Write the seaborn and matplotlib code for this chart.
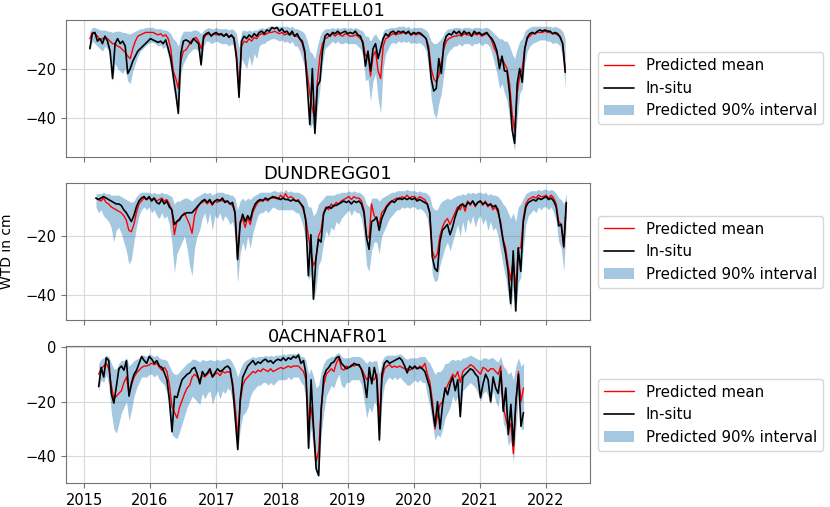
import pandas as pd
import numpy as np
import matplotlib
matplotlib.use('Agg')
import matplotlib.pyplot as plt
import matplotlib.dates as mdates
from matplotlib.ticker import MultipleLocator
import seaborn as sns

# %%
# fortnightly series (WTD in cm)
goat_start = '2015-02-02'
goat_insitu = [
    -12, -6, -5.5, -9, -8, -10, -7, -9, -13, -24, -10, -8, -10, -9, -11, -22, -20, -17, -15, -13, -12, -11, -10, -9, -8, -8.5,
    -9, -9.5, -9, -10, -8.5, -12, -16, -23, -30, -38, -14, -9, -8.5, -9, -10, -8, -9, -10, -18.5, -7, -6, -5.5, -7, -6, -5.5, -6.5,
    -6, -7, -6, -7.5, -6.5, -8, -16, -31.5, -9, -7, -8, -6.5, -7.5, -6, -7, -5.5, -5, -6, -4.5, -5, -3.5, -4, -3.5, -5, -4, -5.5,
    -5, -6.5, -5, -7, -6, -8, -9, -13, -27, -42.5, -20, -46, -27, -25, -13, -7, -6, -7, -5.5, -6, -5, -6, -5.5, -5, -6, -5.5,
    -6, -5, -6.5, -7, -10, -19, -13, -21, -12, -10, -16, -12, -8, -6, -7, -5.5, -5, -6, -5, -5.5, -5, -6, -5, -6.5, -5.5, -6,
    -5.5, -6, -7, -8, -13, -24, -29, -28, -16, -22, -10, -7, -6, -6.5, -5, -6, -5, -6.5, -5, -6, -5.5, -7, -5, -6, -5.5, -6.5,
    -6, -5.5, -7, -8, -10, -13, -20, -15, -21, -21, -30, -44.5, -50, -26, -20, -25.5, -12, -7.5, -6, -5.5, -6, -5, -4.5, -5, -4.5, -5,
    -5, -6, -5.5, -6, -7.5, -10, -21.5]
goat_mean = [
    -8, -5.5, -6, -7, -8.5, -8, -7.5, -8, -9, -10, -10, -11, -11.5, -12.5, -13.5, -15, -16, -12, -9, -7, -6.5, -6, -5.5, -5.5, -5.5, -5.5,
    -6, -6.5, -6, -7, -6.5, -8, -12, -21, -24, -28, -17, -13, -12.5, -11, -9, -8, -7.5, -9, -12, -8, -6.5, -6, -6.5, -6, -6.5, -6,
    -6.5, -7, -6.5, -7, -7, -7.5, -14, -29, -11, -9, -9.5, -8, -9, -7.5, -8, -6.5, -6, -6.5, -6, -5.5, -5.5, -5, -5.5, -6, -5.5, -6.5,
    -6, -6.5, -6, -7, -7, -8, -10, -14, -22, -30, -36, -40.5, -25, -15, -10, -8, -7.5, -6.5, -6, -7, -6, -6.5, -7, -6, -6.5, -7,
    -7, -6.5, -7, -8, -9, -15, -14, -23, -15, -13, -21, -24, -11, -8, -7.5, -6.5, -6, -6.5, -6, -6, -5.5, -6, -5.5, -6.5, -6, -6.5,
    -6, -6.5, -7, -8, -11, -20, -24, -25.5, -23, -18, -12, -9, -8, -7.5, -7, -7, -6.5, -7, -6, -6.5, -6.5, -7, -6, -6.5, -6, -7,
    -6.5, -6, -7, -9, -12, -14, -17, -16, -18, -20, -26, -38, -45, -30, -23, -20, -12, -8, -7, -6, -6, -5.5, -5.5, -5.5, -5, -5.5,
    -5.5, -6, -6, -6.5, -7, -10, -20]
goat_lo = [
    -13, -9, -10, -11, -12, -13, -11, -12, -15, -25, -18, -20, -21, -22, -20, -25, -26, -21, -18, -15, -13, -12, -11, -10, -9.5, -9.5,
    -10, -11, -10.5, -12, -11, -15, -20, -28, -33, -38.5, -22, -18, -16, -14, -13, -12, -12, -13, -19.5, -11, -9, -9, -10, -9.5, -9, -9.5,
    -10, -10, -10, -11, -10, -11, -19, -34, -16, -18, -20, -15, -19, -14, -16, -11, -10, -10, -9, -8.5, -8, -8, -8.5, -9, -8.5, -9.5,
    -9, -10, -9, -11, -11, -13, -16, -20, -30, -44, -42, -47, -36, -28, -18, -12, -11, -10, -9, -10, -9, -10, -10, -9.5, -10, -10,
    -10, -10, -11, -12, -15, -25, -24, -33, -25, -22, -32, -38, -20, -14, -12, -10, -9.5, -10, -9, -9.5, -9, -9.5, -9, -10, -9.5, -10,
    -9.5, -10, -11, -13, -20, -32, -38, -40, -34, -30, -22, -15, -13, -12, -11, -11, -10, -11, -10, -10, -10, -11, -10, -10, -9.5, -11,
    -10, -10, -11, -14, -18, -22, -28, -26, -30, -33, -40, -48, -53, -40, -30, -28, -18, -13, -11, -10, -9.5, -9, -8.5, -8.5, -8.5, -9,
    -9, -10, -9.5, -10, -11, -16, -28]
goat_hi = [
    -5, -3.5, -3.5, -4, -4.5, -4.5, -4.5, -5, -5, -5.5, -5, -5, -5, -5.5, -5.5, -6, -6, -5.5, -5, -4.5, -4, -4, -3.5, -3.5, -3.5, -3.5,
    -4, -4, -4, -4.5, -4.5, -5, -6, -8, -9, -11, -7, -5, -5, -5, -5, -4.5, -4.5, -5, -6, -4.5, -4, -3.5, -4, -4, -3.5, -4,
    -4, -4, -4, -4.5, -4, -4.5, -6, -12, -5, -4.5, -5, -4.5, -5, -4.5, -4.5, -4, -3.5, -4, -3.5, -3, -3, -3, -3, -3, -3, -3,
    -3, -3.5, -3, -4, -4, -4.5, -5, -6, -9, -13, -14, -16, -11, -7, -5, -4, -4, -4, -3.5, -4, -3.5, -4, -3.5, -3.5, -4, -3.5,
    -4, -3.5, -4, -4.5, -5, -7, -7, -9, -7, -6, -8, -9, -5, -4, -4, -3.5, -3.5, -3.5, -3, -3, -3, -3.5, -3, -4, -3.5, -3.5,
    -3.5, -3.5, -4, -4.5, -6, -9, -10, -10, -9, -8, -6, -4.5, -4, -4, -3.5, -3.5, -3.5, -4, -3.5, -3.5, -3.5, -4, -3.5, -3.5, -3.5, -4,
    -3.5, -3.5, -4, -5, -6, -7, -8, -8, -9, -9, -11, -14, -16, -12, -9, -8, -5, -4, -3.5, -3, -3, -3, -3, -3, -3, -3,
    -3, -3.5, -3, -3.5, -4, -5, -8]

dund_start = '2015-03-08'
dund_insitu = [
    -7, -7.5, -7, -6.5, -7, -7.5, -8, -8.5, -9, -9, -9.5, -11, -12, -13.5, -15, -13, -10, -8, -7, -6.5, -7.5, -6.5, -8, -7, -8.5, -9,
    -7.5, -9, -8, -10, -11, -16, -15, -14.5, -13, -12.5, -12, -12, -12, -11, -10, -9, -8, -7.5, -8.5, -7.5, -9, -8, -7.5, -8, -7, -8.5,
    -8, -9, -8.5, -12, -28, -16, -12.5, -15, -13, -14.5, -11, -9, -8, -7.5, -8, -7, -7.5, -7, -6.5, -7, -7, -7.5, -7, -7.5, -7.5, -8,
    -7.5, -8, -8, -9, -10, -15, -33.5, -19.5, -41.5, -27.5, -21, -22, -12.5, -10.5, -10, -10.5, -9.5, -9.5, -9, -8.5, -8, -8.5, -8, -9, -8, -8.5,
    -8, -9, -12, -20.5, -24.5, -15, -14.5, -13.5, -18, -14, -12, -10, -9, -8, -8.5, -7.5, -7, -7.5, -7, -7.5, -7, -7.5, -7, -8, -7.5, -8,
    -8.5, -9, -12, -27, -31, -32, -22, -18, -17, -16, -19.5, -17, -13.5, -11, -9.5, -9, -10, -8.5, -9, -8, -9.5, -8.5, -8, -9, -8.5, -9.5,
    -9, -10, -9.5, -11, -16, -21.5, -26, -32, -43, -25, -45.5, -24, -32, -15, -10, -8.5, -8, -7.5, -8, -7, -7.5, -7, -6.5, -7.5, -7, -8,
    -10, -16.5, -16, -23.5, -8.5]
dund_mean = [
    -7, -7.5, -8, -7, -8.5, -9, -10, -10.5, -11, -11.5, -12, -13, -14.5, -18, -18.5, -16, -12, -9, -8, -7, -7.5, -7, -7.5, -7, -8, -7.5,
    -7, -8, -7.5, -9, -11, -19.5, -15, -14, -13, -12, -14, -16, -19, -13, -10.5, -9, -8.5, -8, -9, -8, -9.5, -8, -8.5, -7.5, -8, -8,
    -8, -9, -9.5, -12, -27.5, -15, -14, -17, -13.5, -16, -12, -10, -8.5, -8, -7.5, -7.5, -8, -7, -7, -6.5, -7.5, -6, -7, -5.5, -7, -6.5,
    -7, -8, -7.5, -9, -11, -14, -20, -25, -30, -28, -20, -18, -12, -10, -11, -9, -10, -8.5, -9, -8, -7.5, -7, -6.5, -7.5, -6.5, -7,
    -7, -8, -11, -20, -20.5, -9, -13, -14, -16, -12, -11, -9.5, -8.5, -8, -7.5, -7, -7.5, -6.5, -7, -6, -7, -6.5, -6.5, -7.5, -6.5, -7,
    -7.5, -9, -12, -25, -27.5, -26, -20, -17, -15, -14, -16, -14, -12, -10, -11, -9, -11.5, -8, -9.5, -8, -10, -8.5, -8, -9.5, -8, -10,
    -9, -11, -10, -12, -15, -21, -24, -30, -35, -28, -38, -24, -24, -14, -9, -7.5, -7, -6.5, -7, -6, -6.5, -6.5, -6, -7, -6, -7,
    -9, -15, -16, -24, -9]
dund_lo = [
    -10, -12, -11, -13, -14, -15, -17, -22, -18, -17, -19, -22, -25, -29.5, -28, -22, -17, -13, -11, -10, -11, -10, -12, -11, -13, -14,
    -12, -14, -13, -16, -22, -32.5, -26, -24, -22, -20, -24, -30, -33.5, -24, -20, -18, -14, -12, -16, -12, -18, -13, -14, -12, -15, -13,
    -14, -16, -15, -20, -36, -26, -22, -25, -20, -24, -19, -16, -13, -12, -12, -11, -12, -11, -10, -10.5, -11, -11, -11, -11, -11, -11,
    -11, -12, -12, -14, -17, -22, -35, -33, -42, -38, -30, -28, -22, -18, -20, -17, -18, -15, -16, -14, -13, -12, -11, -13, -11, -12,
    -12, -14, -20, -30, -32, -25, -22, -22, -26, -20, -18, -16, -14, -13, -12, -11, -11, -10, -10.5, -10, -10.5, -10, -10, -11, -10.5, -11,
    -12, -14, -20, -33, -35.5, -35, -30, -27, -24, -22, -25, -22, -19, -16, -20, -15, -19, -14, -16, -13, -17, -14, -13, -16, -14, -18,
    -15, -18, -17, -20, -25, -30, -34, -40, -45, -38, -46.5, -36, -34, -24, -16, -13, -12, -11, -12, -10, -11, -10, -10, -11, -10, -12,
    -15, -22, -24, -32, -15]
dund_hi = [
    -5.5, -5.5, -5.5, -5, -5.5, -5.5, -6, -6, -6, -6, -6.5, -7, -7.5, -8, -8.5, -8, -6.5, -5.5, -5, -5, -5, -5, -5.5, -5, -5.5, -5.5,
    -5, -5.5, -5.5, -6, -6.5, -9, -8, -8, -7.5, -7, -7, -7.5, -8, -7, -6.5, -6, -5.5, -5, -5.5, -5, -6, -5.5, -5, -5, -5, -5.5,
    -5.5, -6, -6, -7, -11, -8, -7, -8, -7, -7.5, -6.5, -6, -5.5, -5, -5, -5, -5, -5, -4.5, -4.5, -5, -4.5, -5, -4, -5, -4.5,
    -5, -5, -5, -5.5, -6, -7, -10, -10, -13, -12, -9, -8, -7, -6, -6, -6, -6, -5.5, -5.5, -5, -5, -5, -4.5, -5, -4.5, -5,
    -5, -5.5, -6.5, -9, -10, -7, -7, -7, -8, -7, -6.5, -6, -5.5, -5, -5, -4.5, -4.5, -4.5, -4.5, -4, -4.5, -4.5, -4.5, -5, -4.5, -5,
    -5, -5.5, -6.5, -10, -11, -11, -9, -8, -7.5, -7, -7.5, -7, -6.5, -6, -6, -5.5, -6, -5, -5.5, -5, -5.5, -5, -5, -5.5, -5, -6,
    -5.5, -6, -6, -6.5, -7.5, -9, -10, -12, -14, -12, -15, -10, -9, -7, -5.5, -5, -4.5, -4.5, -4.5, -4, -4.5, -4, -4, -4.5, -4, -4.5,
    -5.5, -7, -7.5, -9, -5.5]

achn_start = '2015-03-23'
achn_insitu = [
    -14.5, -7.5, -11, -4, -5, -17, -20.5, -14.5, -8, -7, -8.5, -5, -18, -13, -10, -8.5, -6, -3.5, -5, -6, -3.5, -4.5, -6, -5, -7, -7.5,
    -9.5, -12, -19.5, -31, -18, -18.5, -15, -12, -11, -10, -9.5, -8, -7.5, -10, -13.5, -9, -10.5, -9.5, -8, -11, -9.5, -8, -9, -8.5, -7.5, -7,
    -8, -14.5, -26, -37.5, -19, -11, -9, -7, -6, -5, -6.5, -5.5, -6, -5, -4.5, -5.5, -5, -6, -5, -4.5, -5, -4, -5, -4, -4.5, -3.5,
    -4, -3, -6, -5, -10, -37, -12, -30, -44.5, -47, -23, -11, -8.5, -7.5, -6, -5.5, -4, -3.5, -6, -7, -8, -7.5, -7, -6, -6.5, -6.5,
    -8.5, -12, -18.5, -7.5, -13.5, -7.5, -12, -34, -10, -6, -5, -6, -5.5, -5, -4.5, -4, -5, -7, -9.5, -7, -8, -7, -8, -7.5, -8, -9,
    -12, -15, -22.5, -29, -20, -30, -21, -15, -17.5, -13.5, -11, -16, -12, -25.5, -11, -10, -9, -8, -8.5, -10, -11, -18.5, -13.5, -10, -12, -20,
    -11, -15, -17, -9, -23.5, -15, -32, -21, -36, -20, -10, -29, -24]
achn_mean = [
    -10, -8, -7, -6, -8, -14, -19, -18, -17, -16, -13, -11, -17, -14, -11, -9.5, -8.5, -7.5, -7, -7, -6.5, -6, -6.5, -6, -7.5, -8.5,
    -7.5, -9, -14, -22, -24, -26, -22, -19.5, -17, -15, -14, -11, -10, -11, -12, -10.5, -11, -10, -9, -11, -10, -9.5, -10.5, -9, -9.5, -9,
    -9.5, -13, -22, -33, -20, -14, -12, -11, -10, -9, -9.5, -8.5, -9, -8, -8.5, -9, -8, -9, -8.5, -8, -7.5, -8, -7.5, -7, -7.5, -7,
    -7, -7, -8, -9, -12, -28, -22, -30, -42, -38, -22, -14, -10, -9, -8, -9, -6, -4, -8, -8.5, -7, -7.5, -6.5, -7, -6.5, -7,
    -8, -10, -12, -11, -12, -12, -10, -26, -12, -8, -7, -6.5, -7.5, -7, -7.5, -7, -7.5, -8, -8, -8.5, -8, -7.5, -8, -7, -7.5, -6,
    -10, -13, -20, -30, -25, -21, -20, -16, -14, -12, -10, -11, -9, -13, -9, -8, -7.5, -6.5, -7, -8, -9, -10, -7.5, -8, -9, -8,
    -8, -9, -10, -7, -22, -26, -30, -28, -39, -20, -9, -20, -15]
achn_lo = [
    -16, -12, -13, -10, -14, -24, -30, -31.5, -28, -24, -22, -20, -27, -23, -18, -15, -13, -11, -11, -11, -10, -10, -11, -10, -12, -13,
    -14, -17, -25, -32, -33, -33.5, -31, -28, -25, -22, -20, -18, -19, -20, -21, -17, -19, -17, -16, -21, -18, -16, -19, -16, -17, -15,
    -16, -20, -30, -38, -30, -25, -24, -22, -18, -16, -15, -14, -14, -13, -13, -14, -13, -14, -13, -12, -12, -12, -12, -11, -12, -11,
    -11, -11, -13, -14, -20, -37.5, -30, -38, -46, -47.5, -32, -24, -18, -16, -14, -15, -12, -10, -14, -15, -13, -13, -12, -12, -12, -12,
    -14, -20, -26, -22, -24, -20, -22, -36, -20, -14, -12, -11, -12, -11, -12, -11, -12, -13, -14, -14, -13, -12, -13, -12, -13, -13,
    -18, -22, -28, -34, -32, -33, -30, -26, -24, -22, -18, -20, -18, -26, -16, -15, -14, -13, -14, -15, -17, -20, -17, -16, -18, -21,
    -16, -20, -22, -15, -28, -30, -36, -34, -42, -30, -18, -30, -30]
achn_hi = [
    -6, -4.5, -4, -3, -3.5, -6, -8, -8, -6, -5, -5, -4, -7, -6, -5, -4.5, -4, -3, -3, -3.5, -2.5, -3, -3.5, -3, -4, -4.5,
    -4.5, -5, -7, -9, -10, -10, -9, -8, -7, -6, -5.5, -4.5, -4.5, -5, -5.5, -4.5, -5, -5, -4.5, -5, -5, -4.5, -5, -4.5, -4.5, -4,
    -4.5, -6, -8, -11, -8, -6, -5, -4.5, -4, -3.5, -4, -3.5, -3.5, -3.5, -3, -3.5, -3, -3.5, -3, -3, -3, -2.5, -3, -2.5, -2.5, -2.5,
    -2.5, -2, -3.5, -3.5, -5, -10, -8, -11, -15, -14, -9, -6, -4.5, -4, -3.5, -3.5, -2.5, -2, -3.5, -4, -4, -4, -3.5, -3.5, -3.5, -3.5,
    -4, -5, -6, -5, -5.5, -5, -5, -10, -5, -3.5, -3, -3, -3, -3, -3, -2.5, -3, -4, -4.5, -4, -4, -4, -4, -3.5, -3.5, -3.5,
    -5, -6, -8, -10, -9, -9, -8, -6, -6, -5, -4.5, -5, -4.5, -5, -4, -4, -3.5, -3, -3.5, -4, -4.5, -5, -4, -4, -4.5, -4,
    -4, -5, -5.5, -3.5, -7, -8, -10, -9, -12, -7, -4, -7, -6]

sites = ['GOATFELL01', 'DUNDREGG01', '0ACHNAFR01']
starts = [goat_start, dund_start, achn_start]
insitu = [goat_insitu, dund_insitu, achn_insitu]
mean = [goat_mean, dund_mean, achn_mean]
lo = [goat_lo, dund_lo, achn_lo]
hi = [goat_hi, dund_hi, achn_hi]

# %%
sns.set_style('whitegrid', {'axes.edgecolor': '0.45', 'xtick.bottom': True, 'ytick.left': True,
                            'grid.color': '0.85', 'text.color': 'black'})
plt.rcParams['font.family'] = ['DejaVu Sans']

fig, axes = plt.subplots(3, 1, figsize=(8.3, 5.07), dpi=100, sharex=True)
fig.subplots_adjust(left=0.0795, right=0.711, top=0.9606, bottom=0.047, hspace=0.19)

for i, ax in enumerate(axes):
    n = min(len(insitu[i]), len(mean[i]), len(lo[i]), len(hi[i]))
    df = pd.DataFrame({
        'date': pd.date_range(starts[i], periods=n, freq='14D'),
        'mean': mean[i][:n], 'insitu': insitu[i][:n],
        'lo': lo[i][:n], 'hi': hi[i][:n]})
    sns.lineplot(data=df, x='date', y='mean', color='red', lw=1.0, ax=ax,
                 label='Predicted mean', legend=False)
    sns.lineplot(data=df, x='date', y='insitu', color='black', lw=1.2, ax=ax,
                 label='In-situ', legend=False)
    ax.fill_between(df['date'], df['lo'], df['hi'], color='tab:blue', alpha=0.4,
                    lw=0, label='Predicted 90% interval')
    ax.set_title(sites[i], fontsize=13, pad=2, color='black')
    ax.set_xlabel('')
    ax.set_ylabel('')
    ax.yaxis.set_major_locator(MultipleLocator(20))
    ax.tick_params(labelsize=10.5, length=3.5, color='0.45', labelcolor='black')
    ax.legend(loc='center left', bbox_to_anchor=(1.0, 0.5), fontsize=10.8)

axes[1].set_ylabel('WTD in cm', fontsize=10, color='black')
axes[1].yaxis.set_label_coords(-0.1, 0.5)
axes[2].xaxis.set_major_locator(mdates.YearLocator())
axes[2].xaxis.set_major_formatter(mdates.DateFormatter('%Y'))

plt.savefig('out.png', dpi=100)
